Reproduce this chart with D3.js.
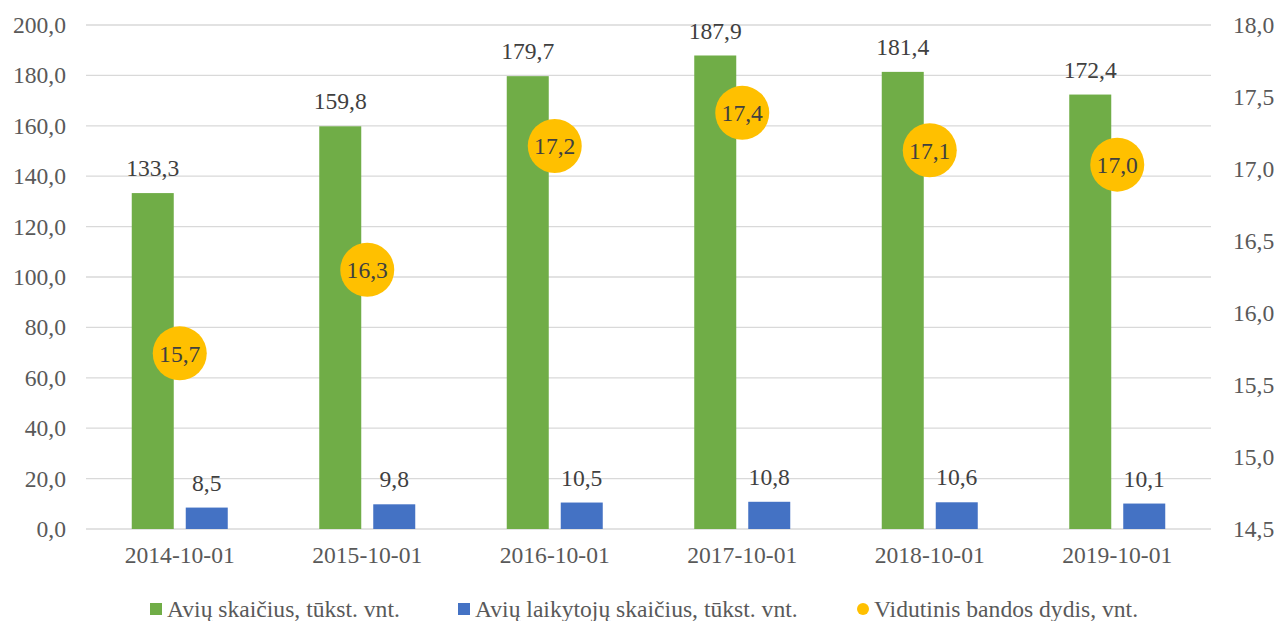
<!DOCTYPE html>
<html>
<head>
<meta charset="utf-8">
<script src="https://cdn.jsdelivr.net/npm/d3@7"></script>
<style>
  body { margin: 0; background: #fff; }
</style>
</head>
<body>
<svg id="chart"></svg>
<script>
var width = 1279, height = 621;
var margin = { top: 25, right: 68, bottom: 92, left: 86 };
var FONT = "'Liberation Serif', 'Times New Roman', Times, serif";
var FS = '23.6px';

var dates = ['2014-10-01', '2015-10-01', '2016-10-01', '2017-10-01', '2018-10-01', '2019-10-01'];
var sheep = [133.3, 159.8, 179.7, 187.9, 181.4, 172.4];
var keepers = [8.5, 9.8, 10.5, 10.8, 10.6, 10.1];
var herdSize = [15.72, 16.30, 17.16, 17.39, 17.13, 17.03];
var leftTicks = [0, 20, 40, 60, 80, 100, 120, 140, 160, 180, 200];
var rightTicks = [14.5, 15, 15.5, 16, 16.5, 17, 17.5, 18];
var seriesNames = ['Avių skaičius, tūkst. vnt.', 'Avių laikytojų skaičius, tūkst. vnt.', 'Vidutinis bandos dydis, vnt.'];
var colors = ['#70AD47', '#4472C4', '#FFC000'];

var fmt = function(v) { return d3.format('.1f')(v).replace('.', ','); };

var svg = d3.select('#chart')
    .attr('width', width)
    .attr('height', height)
    .style('font-family', FONT);

var plotW = width - margin.left - margin.right,
    plotH = height - margin.top - margin.bottom;

var g = svg.append('g')
    .attr('transform', 'translate(' + margin.left + ',' + margin.top + ')');

var x = d3.scaleBand().domain(dates).range([0, plotW]).padding(0);
var sub = d3.scaleBand().domain(['sheep', 'keepers'])
    .range([x.bandwidth() / 2 - 48, x.bandwidth() / 2 + 48])
    .paddingInner(12 / 54).paddingOuter(0);
var y = d3.scaleLinear().domain([0, 200]).range([plotH, 0]);
var y2 = d3.scaleLinear().domain([14.5, 18]).range([plotH, 0]);

// gridlines
g.selectAll('line.grid')
    .data(leftTicks)
    .enter().append('line')
    .attr('class', 'grid')
    .attr('x1', 0).attr('x2', plotW)
    .attr('y1', function(d) { return y(d); })
    .attr('y2', function(d) { return y(d); })
    .attr('stroke', '#d9d9d9')
    .attr('stroke-width', 1.3);

function styleAxis(sel) {
    sel.select('.domain').remove();
    sel.attr('font-family', null).attr('font-size', null);
    sel.selectAll('text')
        .attr('fill', '#595959')
        .style('font-family', FONT)
        .style('font-size', FS);
}

// left axis
g.append('g')
    .call(d3.axisLeft(y).tickValues(leftTicks).tickFormat(fmt).tickSize(0).tickPadding(20))
    .call(styleAxis);

// right axis
g.append('g')
    .attr('transform', 'translate(' + plotW + ',0)')
    .call(d3.axisRight(y2).tickValues(rightTicks).tickFormat(fmt).tickSize(0).tickPadding(22))
    .call(styleAxis);

// x axis
g.append('g')
    .attr('transform', 'translate(0,' + plotH + ')')
    .call(d3.axisBottom(x).tickSize(0).tickPadding(17))
    .call(styleAxis);

var groups = g.selectAll('g.cat')
    .data(dates)
    .enter().append('g')
    .attr('class', 'cat')
    .attr('transform', function(d) { return 'translate(' + x(d) + ',0)'; });

// green bars
groups.append('rect')
    .attr('x', sub('sheep'))
    .attr('width', sub.bandwidth())
    .attr('y', function(d, i) { return y(sheep[i]); })
    .attr('height', function(d, i) { return plotH - y(sheep[i]); })
    .attr('fill', colors[0]);

groups.append('text')
    .attr('x', sub('sheep') + sub.bandwidth() / 2)
    .attr('y', function(d, i) { return y(sheep[i]) - 17; })
    .attr('text-anchor', 'middle')
    .attr('fill', '#404040')
    .style('font-family', FONT)
    .style('font-size', FS)
    .text(function(d, i) { return fmt(sheep[i]); });

// blue bars
groups.append('rect')
    .attr('x', sub('keepers'))
    .attr('width', sub.bandwidth())
    .attr('y', function(d, i) { return y(keepers[i]); })
    .attr('height', function(d, i) { return plotH - y(keepers[i]); })
    .attr('fill', colors[1]);

groups.append('text')
    .attr('x', sub('keepers') + sub.bandwidth() / 2)
    .attr('y', function(d, i) { return y(keepers[i]) - 17; })
    .attr('text-anchor', 'middle')
    .attr('fill', '#404040')
    .style('font-family', FONT)
    .style('font-size', FS)
    .text(function(d, i) { return fmt(keepers[i]); });

// herd size markers
groups.append('circle')
    .attr('cx', x.bandwidth() / 2)
    .attr('cy', function(d, i) { return y2(herdSize[i]); })
    .attr('r', 27)
    .attr('fill', colors[2]);

groups.append('text')
    .attr('x', x.bandwidth() / 2)
    .attr('y', function(d, i) { return y2(herdSize[i]); })
    .attr('dy', '0.35em')
    .attr('text-anchor', 'middle')
    .attr('fill', '#404040')
    .style('font-family', FONT)
    .style('font-size', FS)
    .text(function(d, i) { return fmt(herdSize[i]); });

// legend
var legendX = [150, 458, 857];
var items = svg.append('g')
    .attr('transform', 'translate(0,609)')
    .selectAll('g')
    .data(seriesNames)
    .enter().append('g')
    .attr('transform', function(d, i) { return 'translate(' + legendX[i] + ',0)'; });
items.append('text')
    .attr('x', 17)
    .attr('dy', '0.35em')
    .attr('fill', '#595959')
    .style('font-family', FONT)
    .style('font-size', FS)
    .text(function(d) { return d; });
items.each(function(d, i) {
    var it = d3.select(this);
    if (i < 2) {
        it.append('rect').attr('x', 0).attr('y', -6).attr('width', 12).attr('height', 12).attr('fill', colors[i]);
    } else {
        it.append('circle').attr('cx', 6).attr('cy', 0).attr('r', 6).attr('fill', colors[i]);
    }
});
</script>
</body>
</html>
